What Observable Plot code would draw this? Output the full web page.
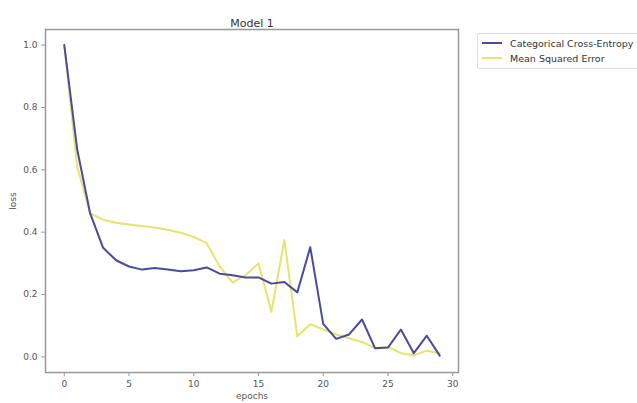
<!DOCTYPE html>
<html>
<head>
<meta charset="utf-8">
<script src="https://cdn.jsdelivr.net/npm/d3@7"></script>
<script src="https://cdn.jsdelivr.net/npm/@observablehq/plot@0.6"></script>
<style>
  html, body { margin: 0; padding: 0; background: #fff; }
  #wrap { position: relative; width: 637px; height: 403px; overflow: hidden; font-family: "DejaVu Sans", sans-serif; }
  #legend { position: absolute; left: 477px; top: 33px; width: 200px; height: 34px; border: 1px solid #ddd; border-radius: 2px; background: #fff; font-size: 9.5px; color: #333; }
  .item { position: absolute; left: 4px; height: 12px; display: flex; align-items: center; white-space: nowrap; }
  .sw { display: inline-block; width: 20px; height: 2px; margin-right: 8px; }
</style>
</head>
<body>
<div id="wrap"></div>
<script>
const epochs = d3.range(0, 30);
const cceLoss = [1.0, 0.665, 0.46, 0.35, 0.31, 0.29, 0.28, 0.285, 0.28, 0.275, 0.278, 0.287, 0.267, 0.262, 0.255, 0.255, 0.235, 0.24, 0.207, 0.352, 0.106, 0.058, 0.072, 0.12, 0.028, 0.03, 0.088, 0.012, 0.068, 0.004];
const mseLoss = [1.0, 0.61, 0.46, 0.44, 0.43, 0.425, 0.42, 0.415, 0.408, 0.398, 0.385, 0.365, 0.29, 0.238, 0.262, 0.30, 0.145, 0.375, 0.066, 0.105, 0.088, 0.072, 0.06, 0.048, 0.028, 0.032, 0.012, 0.005, 0.02, 0.012];
const seriesNames = ["Categorical Cross-Entropy", "Mean Squared Error"];
const seriesColors = ["#4b4a9e", "#e4e46e"];
const xTicks = [0, 5, 10, 15, 20, 25, 30];
const yTicks = [0.0, 0.2, 0.4, 0.6, 0.8, 1.0];

const rows = [];
epochs.forEach((e, i) => {
  rows.push({epoch: e, loss: cceLoss[i], series: seriesNames[0]});
  rows.push({epoch: e, loss: mseLoss[i], series: seriesNames[1]});
});

const chart = Plot.plot({
  width: 637,
  height: 403,
  marginLeft: 45,
  marginRight: 179,
  marginTop: 29,
  marginBottom: 31,
  style: {fontFamily: "DejaVu Sans, sans-serif", fontSize: "9px", color: "#555", background: "#fff"},
  x: {domain: [-1.45, 30.45]},
  y: {domain: [-0.05, 1.05]},
  color: {domain: seriesNames, range: seriesColors},
  marks: [
    Plot.line(rows.filter(d => d.series === seriesNames[1]), {x: "epoch", y: "loss", stroke: "series", strokeWidth: 2}),
    Plot.line(rows.filter(d => d.series === seriesNames[0]), {x: "epoch", y: "loss", stroke: "series", strokeWidth: 2}),
    Plot.frame({stroke: "#999", strokeWidth: 1.5}),
    Plot.axisX({ticks: xTicks, tickSize: 4, tickPadding: 4, stroke: "#999", label: "epochs", labelAnchor: "center", labelArrow: "none", labelOffset: 26, fill: "#555"}),
    Plot.axisY({ticks: yTicks, tickSize: 4, tickPadding: 4, stroke: "#999", tickFormat: d3.format(".1f"), label: "loss", labelAnchor: "center", labelArrow: "none", labelOffset: 36, fill: "#555"}),
    Plot.text(["Model 1"], {frameAnchor: "top", dy: -10, fontSize: 11, fill: "#333"})
  ]
});

const wrap = document.getElementById("wrap");
wrap.appendChild(chart);

const legend = document.createElement("div");
legend.id = "legend";
seriesNames.forEach((name, i) => {
  const item = document.createElement("div");
  item.className = "item";
  item.style.top = (3 + i * 15) + "px";
  const sw = document.createElement("span");
  sw.className = "sw";
  sw.style.background = seriesColors[i];
  item.appendChild(sw);
  item.appendChild(document.createTextNode(name));
  legend.appendChild(item);
});
wrap.appendChild(legend);
</script>
</body>
</html>
